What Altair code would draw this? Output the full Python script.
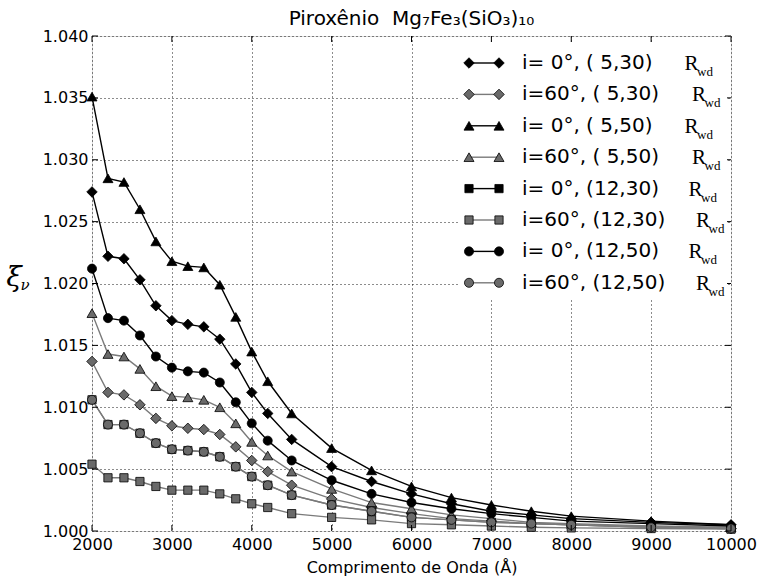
import altair as alt
import pandas as pd

# ---------------- data ----------------
wavelength = [2000, 2200, 2400, 2600, 2800, 3000, 3200, 3400, 3600, 3800, 4000,
              4200, 4500, 5000, 5500, 6000, 6500, 7000, 7500, 8000, 9000, 10000]

xi_i0_5_30 = [1.0274, 1.0222, 1.0220, 1.0203, 1.0182, 1.0170, 1.0167, 1.0165, 1.0155, 1.0135, 1.0112,
              1.0095, 1.0074, 1.0052, 1.0040, 1.0030, 1.0022, 1.0016, 1.0013, 1.0010, 1.0007, 1.0005]
xi_i60_5_30 = [1.0137, 1.0112, 1.0110, 1.0102, 1.0091, 1.0085, 1.0083, 1.0082, 1.0078, 1.0068, 1.0057,
               1.0048, 1.0037, 1.0026, 1.0019, 1.0014, 1.0010, 1.0008, 1.0006, 1.0005, 1.0003, 1.0002]
xi_i0_5_50 = [1.0351, 1.0285, 1.0282, 1.0260, 1.0234, 1.0218, 1.0214, 1.0213, 1.0199, 1.0173, 1.0145,
              1.0121, 1.0095, 1.0067, 1.0049, 1.0036, 1.0027, 1.0021, 1.0016, 1.0012, 1.0008, 1.0005]
xi_i60_5_50 = [1.0176, 1.0143, 1.0141, 1.0131, 1.0117, 1.0109, 1.0108, 1.0106, 1.0100, 1.0087, 1.0072,
               1.0061, 1.0048, 1.0034, 1.0023, 1.0018, 1.0013, 1.0010, 1.0007, 1.0006, 1.0004, 1.0003]
xi_i0_12_30 = [1.0106, 1.0086, 1.0086, 1.0079, 1.0071, 1.0066, 1.0065, 1.0064, 1.0060, 1.0052, 1.0044,
               1.0037, 1.0029, 1.0021, 1.0016, 1.0011, 1.0009, 1.0007, 1.0006, 1.0005, 1.0003, 1.0002]
xi_i60_12_30 = [1.0054, 1.0043, 1.0043, 1.0040, 1.0036, 1.0033, 1.0033, 1.0033, 1.0030, 1.0026, 1.0022,
                1.0019, 1.0014, 1.0011, 1.0009, 1.0006, 1.0005, 1.0004, 1.0003, 1.00025, 1.0002, 1.00015]
xi_i0_12_50 = [1.0212, 1.0172, 1.0170, 1.0158, 1.0141, 1.0132, 1.0129, 1.0128, 1.0120, 1.0104, 1.0087,
               1.0073, 1.0057, 1.0041, 1.0030, 1.0023, 1.0018, 1.0014, 1.0011, 1.0008, 1.0006, 1.0004]
xi_i60_12_50 = [1.0106, 1.0086, 1.0086, 1.0079, 1.0071, 1.0066, 1.0065, 1.0064, 1.0060, 1.0052, 1.0044,
                1.0037, 1.0029, 1.0021, 1.0016, 1.0011, 1.0009, 1.0007, 1.0006, 1.0005, 1.0003, 1.0002]

legend_labels = ["i= 0°, ( 5,30)", "i=60°, ( 5,30)", "i= 0°, ( 5,50)", "i=60°, ( 5,50)",
                 "i= 0°, (12,30)", "i=60°, (12,30)", "i= 0°, (12,50)", "i=60°, (12,50)"]

x_ticks = [2000, 3000, 4000, 5000, 6000, 7000, 8000, 9000, 10000]
y_ticks = [1.000, 1.005, 1.010, 1.015, 1.020, 1.025, 1.030, 1.035, 1.040]

chart_title = "Piroxênio\u00a0\u00a0Mg₇Fe₃(SiO₃)₁₀"

# ---------------- styles ----------------
BLACK = "#000000"
GRAY = "#6a6a6a"
GRAYLINE = "#7a7a7a"
SIZES = {"diamond": 110, "triangle-up": 100, "square": 68, "circle": 82}

# (values, shape, marker fill, line colour, legend fill, legend line)
series = [
    (xi_i0_5_30, "diamond", BLACK, BLACK, BLACK, BLACK),
    (xi_i60_5_30, "diamond", GRAY, GRAYLINE, GRAY, GRAYLINE),
    (xi_i0_5_50, "triangle-up", BLACK, BLACK, BLACK, BLACK),
    (xi_i60_5_50, "triangle-up", GRAY, GRAYLINE, GRAY, GRAYLINE),
    (xi_i0_12_30, "square", GRAY, GRAYLINE, BLACK, BLACK),
    (xi_i60_12_30, "square", GRAY, GRAYLINE, GRAY, GRAYLINE),
    (xi_i0_12_50, "circle", BLACK, BLACK, BLACK, BLACK),
    (xi_i60_12_50, "circle", GRAY, GRAYLINE, GRAY, GRAYLINE),
]

FONT = "DejaVu Sans"

xscale = alt.Scale(domain=[2000, 10000], nice=False, zero=False)
yscale = alt.Scale(domain=[1.0, 1.04], nice=False, zero=False)

xaxis = alt.Axis(values=x_ticks, format="d", grid=True, gridColor="black", gridDash=[1, 3],
                 gridWidth=1, gridOpacity=0.9, ticks=False, domain=False,
                 labelFont=FONT, labelFontSize=16, labelColor="black", labelPadding=5,
                 labelFlush=False, labelOverlap=False, labelBound=False,
                 title="Comprimento de Onda (Å)", titleFont=FONT, titleFontSize=16,
                 titleFontWeight="normal", titleColor="black", titlePadding=7)
yaxis = alt.Axis(values=y_ticks, format=".3f", grid=True, gridColor="black", gridDash=[1, 3],
                 gridWidth=1, gridOpacity=0.9, ticks=False, domain=False,
                 labelFont=FONT, labelFontSize=16, labelColor="black", labelPadding=4,
                 labelFlush=False, labelOverlap=False, labelBound=False, title=None)

X = alt.X("x:Q", scale=xscale, axis=xaxis)
Y = alt.Y("y:Q", scale=yscale, axis=yaxis)
Xn = alt.X("x:Q", scale=xscale)
Yn = alt.Y("y:Q", scale=yscale)

layers = []
for i, (vals, shape, fill, lcol, _, _) in enumerate(series):
    df = pd.DataFrame({"x": wavelength, "y": vals})
    enc_x = X if i == 0 else Xn
    enc_y = Y if i == 0 else Yn
    layers.append(alt.Chart(df).mark_line(color=lcol, strokeWidth=1.4, clip=True)
                  .encode(x=enc_x, y=enc_y))
    layers.append(alt.Chart(df).mark_point(shape=shape, filled=True, fill=fill, stroke="black",
                                           strokeWidth=0.8, opacity=1, size=SIZES[shape])
                  .encode(x=Xn, y=Yn))

# ---------------- inward ticks on all four sides ----------------
dy = 6 / 495 * 0.04
dx = 6 / 639 * 8000
tx = pd.DataFrame({"x": x_ticks, "y": [1.0] * len(x_ticks), "y2": [1.0 + dy] * len(x_ticks)})
tx_top = pd.DataFrame({"x": x_ticks, "y": [1.04] * len(x_ticks), "y2": [1.04 - dy] * len(x_ticks)})
ty = pd.DataFrame({"y": y_ticks, "x": [2000] * len(y_ticks), "x2": [2000 + dx] * len(y_ticks)})
ty_r = pd.DataFrame({"y": y_ticks, "x": [10000] * len(y_ticks), "x2": [10000 - dx] * len(y_ticks)})
for d in (tx, tx_top):
    layers.append(alt.Chart(d).mark_rule(color="black", strokeWidth=1)
                  .encode(x=Xn, y=Yn, y2="y2:Q"))
for d in (ty, ty_r):
    layers.append(alt.Chart(d).mark_rule(color="black", strokeWidth=1)
                  .encode(x=Xn, x2="x2:Q", y=Yn))

# ---------------- legend (manual, in data space) ----------------
px_to_x = lambda px: 2000 + (px - 92) * 8000 / 639
px_to_y = lambda py: 1.0 + (531 - py) * 0.04 / 495
row_py = [63 + 31.4 * k for k in range(8)]
r_px = [686.5, 694, 686.5, 694, 690.5, 698, 690.5, 698]

box = pd.DataFrame({"x": [px_to_x(460)], "x2": [px_to_x(727)],
                    "y": [px_to_y(44)], "y2": [px_to_y(299)]})
layers.append(alt.Chart(box).mark_rect(fill="white")
              .encode(x=Xn, x2="x2:Q", y=Yn, y2="y2:Q"))

for k, (vals, shape, _, _, lfill, lline) in enumerate(series):
    yk = px_to_y(row_py[k])
    seg = pd.DataFrame({"x": [px_to_x(469), px_to_x(499)], "y": [yk, yk]})
    layers.append(alt.Chart(seg).mark_line(color=lline, strokeWidth=1.4).encode(x=Xn, y=Yn))
    layers.append(alt.Chart(seg).mark_point(shape=shape, filled=True, fill=lfill, stroke="black",
                                            strokeWidth=0.8, opacity=1, size=SIZES[shape])
                  .encode(x=Xn, y=Yn))
    lab = pd.DataFrame({"x": [px_to_x(522)], "y": [yk], "t": [legend_labels[k]]})
    layers.append(alt.Chart(lab).mark_text(align="left", baseline="middle", font=FONT,
                                           fontSize=20, color="black")
                  .encode(x=Xn, y=Yn, text="t:N"))
    rr = pd.DataFrame({"x": [px_to_x(r_px[k] - 2)], "y": [yk], "t": ["R"]})
    layers.append(alt.Chart(rr).mark_text(align="left", baseline="middle", font="Liberation Serif",
                                          fontSize=21, color="black", dy=1)
                  .encode(x=Xn, y=Yn, text="t:N"))
    ww = pd.DataFrame({"x": [px_to_x(r_px[k] + 10.5)], "y": [yk], "t": ["wd"]})
    layers.append(alt.Chart(ww).mark_text(align="left", baseline="middle", font="Liberation Serif",
                                          fontSize=13, color="black", dy=9)
                  .encode(x=Xn, y=Yn, text="t:N"))

# ---------------- y-axis symbol ξ_ν ----------------
xi = pd.DataFrame({"t": ["ξ"]})
layers.append(alt.Chart(xi).mark_text(font="DejaVu Serif", fontStyle="italic", fontSize=28,
                                      color="black", align="center", baseline="alphabetic")
              .encode(text="t:N", x=alt.value(-78), y=alt.value(250)))
nu = pd.DataFrame({"t": ["ν"]})
layers.append(alt.Chart(nu).mark_text(font="DejaVu Serif", fontStyle="italic", fontSize=15,
                                      color="black", align="center", baseline="alphabetic")
              .encode(text="t:N", x=alt.value(-67), y=alt.value(254)))

# ---------------- chart title ----------------
tt = pd.DataFrame({"t": [chart_title]})
layers.append(alt.Chart(tt).mark_text(font=FONT, fontSize=20, color="black", align="center",
                                      baseline="alphabetic")
              .encode(text="t:N", x=alt.value(319.5), y=alt.value(-11)))

chart = alt.layer(*layers).properties(
    width=639, height=495,
    autosize=alt.AutoSizeParams(type="none"),
    padding={"left": 92, "top": 36, "right": 32, "bottom": 48},
).configure_view(stroke="black", strokeWidth=1.5).configure(background="white")

chart.save("out.html", embed_options={"renderer": "svg", "actions": False})
